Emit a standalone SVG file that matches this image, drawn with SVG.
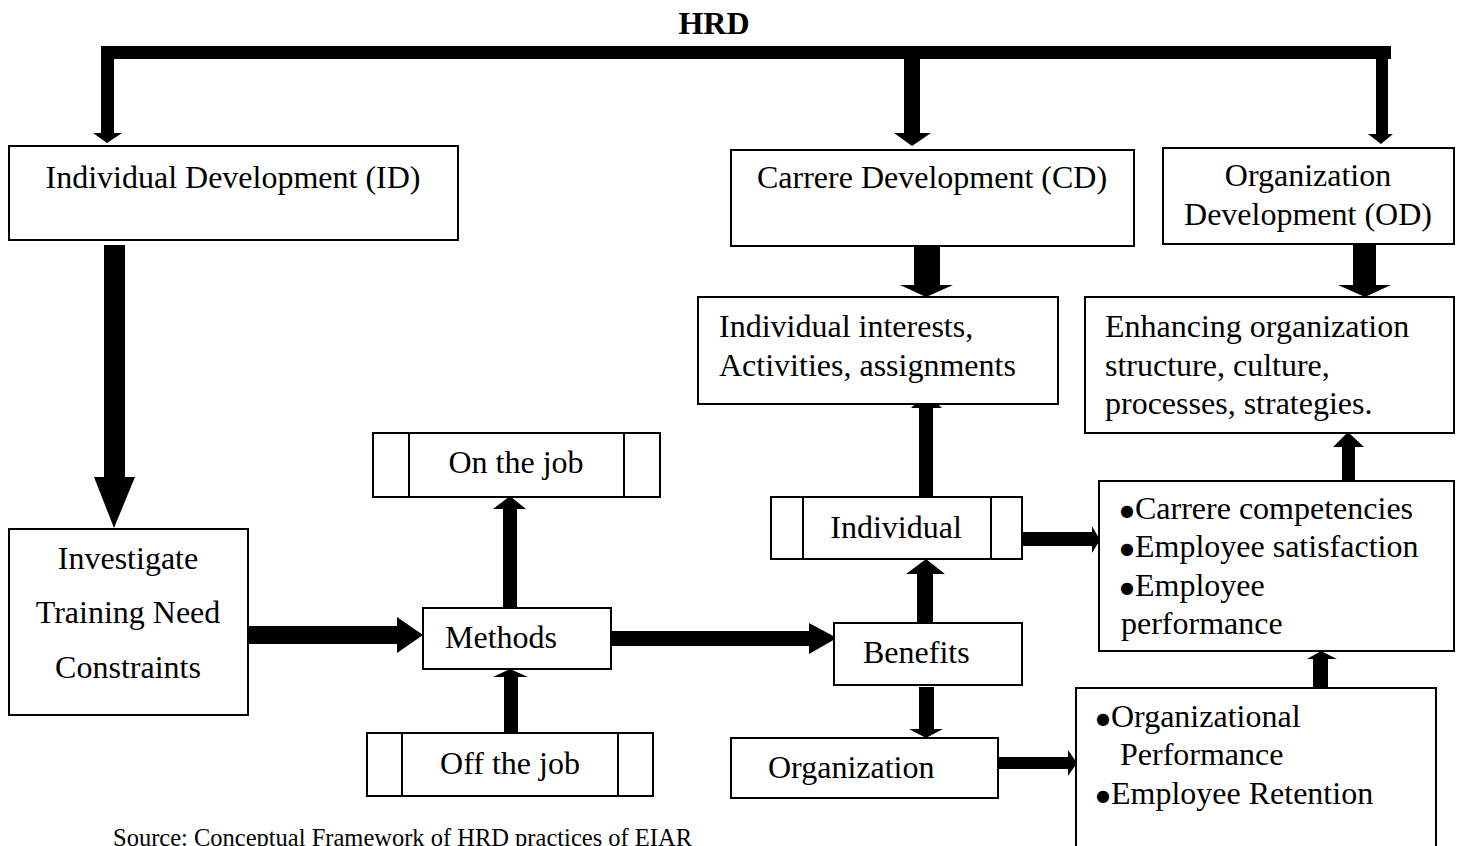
<svg xmlns="http://www.w3.org/2000/svg" width="1464" height="846" viewBox="0 0 1464 846">
<style>
.box{fill:#fff;stroke:#000;stroke-width:2}
.t{font-family:"Liberation Serif","Times New Roman",serif;font-size:32px;fill:#000}
.c{text-anchor:middle}
.b{font-weight:bold}
.arr{fill:#000;stroke:none}
.dv{stroke:#000;stroke-width:2}
.bl{font-family:"DejaVu Sans",sans-serif;font-size:16px}
.src{font-size:24.5px}
</style>
<rect width="1464" height="846" fill="#fff"/>
<text class="t b c" x="714" y="34">HRD</text>
<g id="connectors">
<polygon class="arr" points="101,46 1391,46 1391,59 1388,59 1388,134 1393,134 1381,144 1368,134 1376,134 1376,59 920,59 920,133 931,133 912,146 894,133 904,133 904,59 114,59 114,133 122,133 107,143 93,133 101,133"/>
<polygon class="arr" points="104,245 125,245 125,477 135,477 114,528 94,477 104,477"/>
<polygon class="arr" points="248,626 397,626 397,617 423,635 397,653 397,644 248,644"/>
<polygon class="arr" points="503,608 503,509 493,509 510,496 526,509 517,509 517,608"/>
<polygon class="arr" points="504,733 504,677 493,677 510,669 528,677 518,677 518,733"/>
<polygon class="arr" points="611,631 809,631 809,623 837,638 809,654 809,646 611,646"/>
<polygon class="arr" points="917,623 917,574 906,574 926,559 945,574 933,574 933,623"/>
<polygon class="arr" points="919,497 919,408 911,408 926,393 942,408 933,408 933,497"/>
<polygon class="arr" points="914,246 940,246 940,285 953,285 926,297 900,285 914,285"/>
<polygon class="arr" points="1353,244 1376,244 1376,285 1391,285 1365,297 1338,285 1353,285"/>
<polygon class="arr" points="919,687 934,687 934,729 943,729 926,738 909,729 919,729"/>
<polygon class="arr" points="1022,532 1092,532 1092,526 1100,540 1092,553 1092,546 1022,546"/>
<polygon class="arr" points="998,757 1068,757 1068,750 1077,763 1068,776 1068,769 998,769"/>
<polygon class="arr" points="1313,688 1313,659 1307,659 1321,651 1337,659 1328,659 1328,688"/>
<polygon class="arr" points="1342,481 1342,447 1333,447 1348,432 1364,447 1355,447 1355,481"/>
</g>
<g id="id">
<rect class="box" x="9" y="146" width="449" height="94"/>
<text class="t c" x="233" y="188">Individual Development (ID)</text>
</g>
<g id="cd">
<rect class="box" x="731" y="150" width="403" height="96"/>
<text class="t c" x="932" y="188">Carrere Development (CD)</text>
</g>
<g id="od">
<rect class="box" x="1163" y="148" width="291" height="96"/>
<text class="t c" x="1308" y="186">Organization</text>
<text class="t c" x="1308" y="225">Development (OD)</text>
</g>
<g id="interests">
<rect class="box" x="698" y="297" width="360" height="107"/>
<text class="t" x="719" y="337">Individual interests,</text>
<text class="t" x="719" y="376">Activities, assignments</text>
</g>
<g id="enhancing">
<rect class="box" x="1085" y="297" width="369" height="136"/>
<text class="t" x="1105" y="337">Enhancing organization</text>
<text class="t" x="1105" y="376">structure, culture,</text>
<text class="t" x="1105" y="414">processes, strategies.</text>
</g>
<g id="investigate">
<rect class="box" x="9" y="529" width="239" height="186"/>
<text class="t c" x="128" y="569">Investigate</text>
<text class="t c" x="128" y="623">Training Need</text>
<text class="t c" x="128" y="678">Constraints</text>
</g>
<g id="onjob">
<rect class="box" x="373" y="433" width="287" height="64"/>
<line class="dv" x1="409" y1="433" x2="409" y2="497"/>
<line class="dv" x1="624" y1="433" x2="624" y2="497"/>
<text class="t c" x="516" y="473">On the job</text>
</g>
<g id="methods">
<rect class="box" x="423" y="608" width="188" height="61"/>
<text class="t" x="445" y="648">Methods</text>
</g>
<g id="offjob">
<rect class="box" x="367" y="733" width="286" height="63"/>
<line class="dv" x1="402" y1="733" x2="402" y2="796"/>
<line class="dv" x1="618" y1="733" x2="618" y2="796"/>
<text class="t c" x="510" y="774">Off the job</text>
</g>
<g id="individual">
<rect class="box" x="771" y="497" width="251" height="62"/>
<line class="dv" x1="803" y1="497" x2="803" y2="559"/>
<line class="dv" x1="991" y1="497" x2="991" y2="559"/>
<text class="t c" x="896" y="538">Individual</text>
</g>
<g id="benefits">
<rect class="box" x="834" y="623" width="188" height="62"/>
<text class="t" x="863" y="663">Benefits</text>
</g>
<g id="organization">
<rect class="box" x="731" y="738" width="267" height="60"/>
<text class="t" x="768" y="778">Organization</text>
</g>
<g id="bullets1">
<rect class="box" x="1099" y="481" width="355" height="170"/>
<text class="t" x="1120" y="519"><tspan class="bl" dy="-3">●</tspan><tspan dx="1" dy="3">Carrere competencies</tspan></text>
<text class="t" x="1120" y="557"><tspan class="bl" dy="-3">●</tspan><tspan dx="1" dy="3">Employee satisfaction</tspan></text>
<text class="t" x="1120" y="596"><tspan class="bl" dy="-3">●</tspan><tspan dx="1" dy="3">Employee</tspan></text>
<text class="t" x="1121" y="634">performance</text>
</g>
<g id="bullets2">
<rect class="box" x="1076" y="688" width="360" height="180"/>
<text class="t" x="1096" y="727"><tspan class="bl" dy="-3">●</tspan><tspan dx="1" dy="3">Organizational</tspan></text>
<text class="t" x="1120" y="765">Performance</text>
<text class="t" x="1096" y="804"><tspan class="bl" dy="-3">●</tspan><tspan dx="1" dy="3">Employee Retention</tspan></text>
</g>
<text class="t src" x="113" y="846">Source: Conceptual Framework of HRD practices of EIAR</text>
</svg>
